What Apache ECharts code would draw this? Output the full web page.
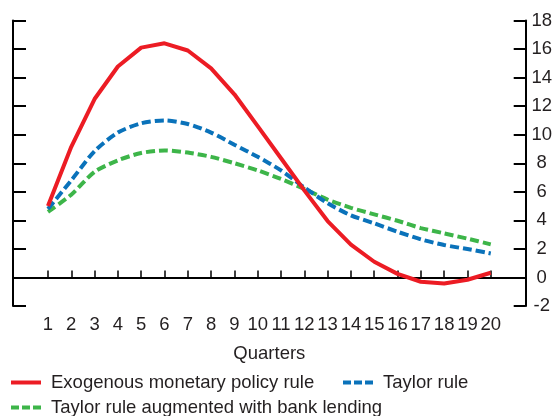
<!DOCTYPE html>
<html>
<head>
<meta charset="utf-8">
<script src="https://cdn.jsdelivr.net/npm/echarts@6/dist/echarts.min.js"></script>
<style>
  html, body { margin: 0; padding: 0; background: #ffffff; }
  #chart { width: 555px; height: 416px; }
</style>
</head>
<body>
<div id="chart"></div>
<script>
// Quarter labels; an empty slot on each side leaves padding inside the frame
const quarters = ['', '1', '2', '3', '4', '5', '6', '7', '8', '9', '10',
  '11', '12', '13', '14', '15', '16', '17', '18', '19', '20', ''];

const exogenous = [null, 5.0, 9.15, 12.5, 14.78, 16.1, 16.4, 15.9, 14.65, 12.83, 10.6,
  8.35, 6.1, 3.95, 2.3, 1.1, 0.25, -0.3, -0.42, -0.16, 0.33, null];

const taylor = [null, 4.8, 6.8, 8.85, 10.15, 10.8, 11.0, 10.75, 10.15, 9.3, 8.45,
  7.5, 6.3, 5.2, 4.35, 3.79, 3.2, 2.67, 2.27, 1.99, 1.68, null];

const taylorBank = [null, 4.6, 5.8, 7.4, 8.2, 8.72, 8.9, 8.75, 8.45, 8.0, 7.5,
  6.9, 6.2, 5.45, 4.88, 4.42, 3.97, 3.46, 3.09, 2.72, 2.32, null];

const yTicks = { min: -2, max: 18, step: 2 };

const names = {
  exo: 'Exogenous monetary policy rule',
  taylor: 'Taylor rule',
  bank: 'Taylor rule augmented with bank lending'
};

const ink = '#231f20';
const font = 'Liberation Sans, Arial, sans-serif';
const textSize = 18.5;

const chart = echarts.init(document.getElementById('chart'), null, { renderer: 'canvas' });

function legendFor(name, left, top, dash) {
  return {
    orient: 'horizontal',
    left: left,
    top: top,
    data: [name],
    itemWidth: 30,
    itemHeight: 10,
    padding: 0,
    itemStyle: { opacity: 0 },
    lineStyle: { width: 4, type: dash },
    textStyle: { color: ink, fontSize: textSize, fontFamily: font, padding: [0, 0, 0, 5] }
  };
}

chart.setOption({
  animation: false,
  backgroundColor: '#ffffff',
  grid: { left: 13, right: 25, top: 20.5, bottom: 110, containLabel: false },
  legend: [
    legendFor(names.exo, 9, 373, 'solid'),
    legendFor(names.taylor, 341, 373, [8, 3]),
    legendFor(names.bank, 9, 398, [8, 3])
  ],
  xAxis: {
    type: 'category',
    data: quarters,
    boundaryGap: true,
    name: 'Quarters',
    nameLocation: 'middle',
    nameGap: 38,
    nameTextStyle: { color: ink, fontSize: textSize, fontFamily: font },
    axisLine: { show: true, lineStyle: { color: '#000', width: 2 } },
    axisTick: {
      show: true,
      inside: true,
      length: 7,
      alignWithLabel: true,
      interval: function (index, value) { return value !== ''; },
      lineStyle: { color: '#000', width: 1.5 }
    },
    axisLabel: { interval: 0, margin: 9, color: ink, fontSize: textSize, fontFamily: font },
    splitLine: { show: false }
  },
  yAxis: [
    {
      type: 'value',
      position: 'left',
      min: yTicks.min, max: yTicks.max, interval: yTicks.step,
      axisLine: { show: true, onZero: false, lineStyle: { color: '#000', width: 2 } },
      axisTick: { show: true, inside: true, length: 13, lineStyle: { color: '#000', width: 2 } },
      axisLabel: { show: false },
      splitLine: { show: false }
    },
    {
      type: 'value',
      position: 'right',
      min: yTicks.min, max: yTicks.max, interval: yTicks.step,
      axisLine: { show: true, onZero: false, lineStyle: { color: '#000', width: 2 } },
      axisTick: { show: true, inside: true, length: 12, lineStyle: { color: '#000', width: 2 } },
      axisLabel: { show: true, inside: false, margin: 16, align: 'center', color: ink, fontSize: textSize, fontFamily: font },
      splitLine: { show: false }
    }
  ],
  series: [
    {
      name: 'zero',
      type: 'line',
      data: [],
      z: 1,
      silent: true,
      markLine: {
        silent: true,
        symbol: ['none', 'none'],
        label: { show: false },
        lineStyle: { color: '#000', width: 1.5, type: 'solid' },
        data: [{ yAxis: 0 }]
      }
    },
    {
      name: names.bank,
      type: 'line',
      data: taylorBank,
      symbol: 'none',
      smooth: 0.25,
      z: 3,
      lineStyle: { color: '#3db549', width: 4, type: [9, 4] },
      itemStyle: { color: '#3db549' }
    },
    {
      name: names.taylor,
      type: 'line',
      data: taylor,
      symbol: 'none',
      smooth: 0.25,
      z: 4,
      lineStyle: { color: '#0a72ba', width: 4, type: [9, 4] },
      itemStyle: { color: '#0a72ba' }
    },
    {
      name: names.exo,
      type: 'line',
      data: exogenous,
      symbol: 'none',
      z: 5,
      lineStyle: { color: '#ec1c24', width: 4, type: 'solid' },
      itemStyle: { color: '#ec1c24' }
    }
  ]
});
</script>
</body>
</html>
